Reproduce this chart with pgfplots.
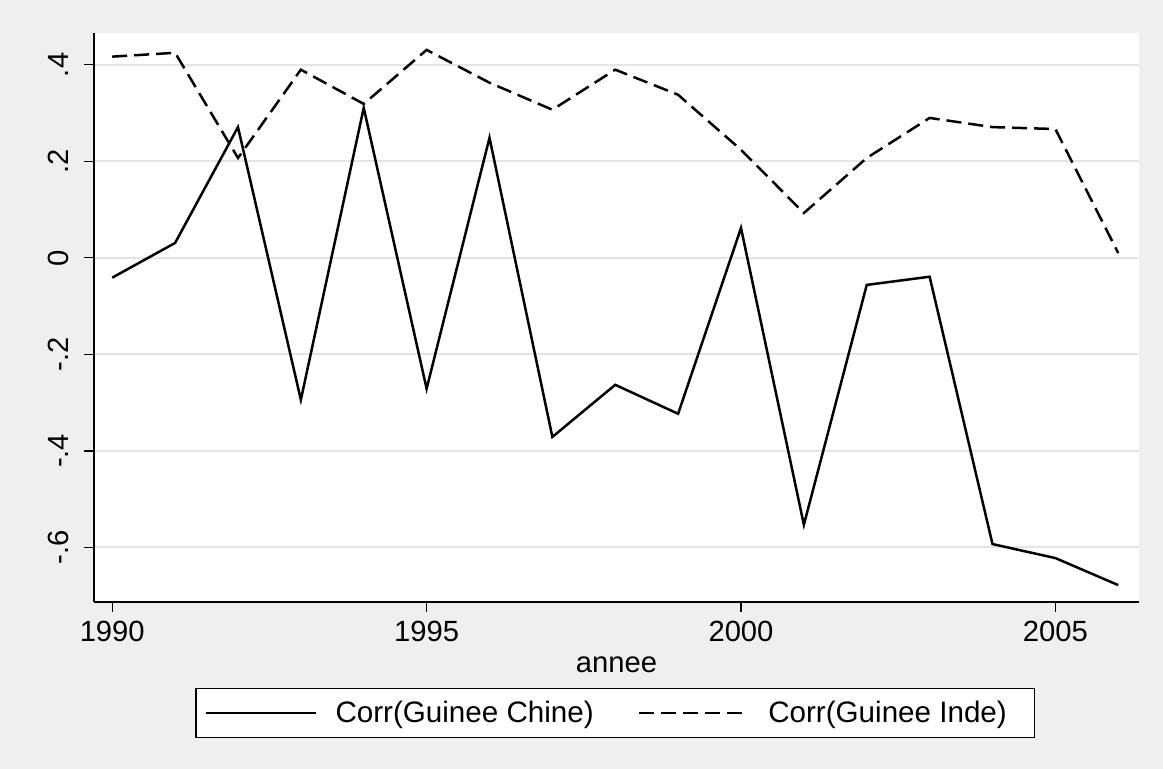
\documentclass[border=0pt]{standalone}
\usepackage{fontspec}
\setmainfont{Liberation Sans}
\usepackage{pgfplots}
\pgfplotsset{compat=1.18}
\definecolor{bggray}{HTML}{EFEFEF}
\definecolor{gridgray}{HTML}{E4E4E4}
\pgfplotstableread{
year chine inde
1990 -0.041 0.417
1991 0.031 0.425
1992 0.271 0.207
1993 -0.294 0.390
1994 0.311 0.319
1995 -0.271 0.431
1996 0.249 0.363
1997 -0.371 0.307
1998 -0.263 0.390
1999 -0.323 0.338
2000 0.062 0.224
2001 -0.553 0.093
2002 -0.056 0.207
2003 -0.039 0.290
2004 -0.593 0.271
2005 -0.622 0.267
2006 -0.678 0.010
}\corrdata
\begin{document}
\begin{tikzpicture}
\fill[bggray] (-47pt,-83.5pt) rectangle (534.5pt,301pt);
\begin{axis}[
  at={(0pt,0pt)}, anchor=south west,
  scale only axis, width=522.5pt, height=284.5pt,
  xmin=1989.71, xmax=2006.33, ymin=-0.713, ymax=0.466,
  axis x line*=bottom, axis y line*=left,
  axis line style={-, black, line width=0.8pt},
  axis background/.style={fill=white},
  xtick={1990,1995,2000,2005},
  ytick={-0.6,-0.4,-0.2,0,0.2,0.4},
  yticklabels={-.6,-.4,-.2,0,.2,.4},
  /pgf/number format/set thousands separator={},
  /pgf/number format/assume math mode=true,
  tick align=outside, major tick length=5pt,
  tick style={black, line width=0.6pt},
  ymajorgrids, grid style={gridgray, line width=1pt},
  ticklabel style={font=\fontsize{14.6}{17}\selectfont},
  yticklabel style={rotate=90, anchor=south},
  yticklabel shift=4pt,
  xticklabel shift=1pt,
  xlabel={annee}, label style={font=\fontsize{14.6}{17}\selectfont},
  xlabel style={yshift=-0.5pt},
  legend columns=2,
  legend style={at={(0.499,-0.195)}, anchor=center, draw=black, fill=white,
    line width=0.6pt,
    font=\fontsize{14.8}{17}\selectfont,
    inner xsep=4.5pt, inner ysep=6pt,
    nodes={inner sep=0pt, line width=0.6pt},
    /tikz/every odd column/.append style={column sep=9pt},
    /tikz/every even column/.append style={column sep=22pt}},
  legend image code/.code={\draw[#1] (0pt,0pt) -- (55pt,0pt);},
]
\addplot[black, line width=1.25pt] table[x=year, y=chine] {\corrdata};
\addlegendentry{Corr(Guinee Chine)}
\addplot[black, line width=1.25pt, dash pattern=on 7.5pt off 3.5pt] table[x=year, y=inde] {\corrdata};
\addlegendentry{Corr(Guinee Inde)\rule{9.5pt}{0pt}}
\end{axis}
\end{tikzpicture}
\end{document}
